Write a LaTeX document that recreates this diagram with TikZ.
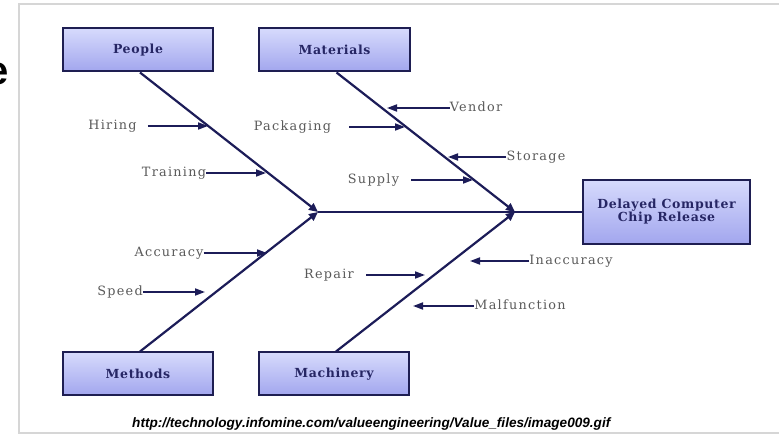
\documentclass[tikz,border=0pt]{standalone}
\usepackage{fontspec}
\setmainfont{DejaVu Serif}
\newfontfamily\lblfont[LetterSpace=10]{DejaVu Serif}
\newfontfamily\boxfont[LetterSpace=5]{DejaVu Serif}
\newfontfamily\urlfont{Liberation Sans}
\newfontfamily\bigsans{Liberation Sans}
\usetikzlibrary{arrows.meta}
\definecolor{navy}{HTML}{1C1C58}
\definecolor{boxedge}{HTML}{1E1E52}
\definecolor{boxtop}{HTML}{D6DAFC}
\definecolor{boxbot}{HTML}{A2A6EE}
\definecolor{boxtext}{HTML}{262664}
\definecolor{lbltext}{HTML}{5A5A5A}
\definecolor{frame}{HTML}{D6D6D6}
\tikzset{
  catbox/.style={draw=boxedge, line width=2pt, top color=boxtop, bottom color=boxbot,
    minimum width=#1, minimum height=43pt, inner sep=0pt,
    font=\boxfont\bfseries\fontsize{12.5}{14}\selectfont, text=boxtext, align=center},
  bone/.style={draw=navy, line width=2.2pt, -{Triangle[length=9pt,width=8pt]}},
  spine/.style={draw=navy, line width=2pt},
  sub/.style={draw=navy, line width=1.8pt, -{Triangle[length=10pt,width=7pt]}},
  lbl/.style={inner sep=0pt, text=lbltext, font=\lblfont\fontsize{12.8}{14}\selectfont, anchor=base},
}
\begin{document}
\begin{tikzpicture}[x=1pt,y=-1pt]
\useasboundingbox (0,0) rectangle (779,435);
\fill[white] (0,0) rectangle (779,435);
% frame
\draw[frame, line width=2pt] (780,4.5) -- (18.5,4.5) -- (18.5,433) -- (780,433);
% large letter at the left edge, cut by the picture's edge as in the reference
\node[anchor=base east, inner sep=0pt, font=\bigsans\bfseries\fontsize{40}{40}\selectfont] (cut) at (8.5,85) {e};
% category boxes
\node[catbox=150pt] (people) at (138,50) {People};
\node[catbox=151pt] (materials) at (334.5,50) {Materials};
\node[catbox=150pt] (methods) at (138,374) {Methods};
\node[catbox=150pt] (machinery) at (334,374) {Machinery};
\node[catbox=167pt, minimum height=64pt] (effect) at (666.5,212) {Delayed Computer\\[-1pt]Chip Release};
% junctions on the spine
\coordinate (j1) at (318,212);
\coordinate (j2) at (515,212);
% spine
\draw[spine] (j1) -- (effect.west);
% bones
\draw[bone] ([xshift=2pt]people.south) -- (j1);
\draw[bone] ([xshift=2pt]methods.north) -- (j1);
\draw[bone] ([xshift=2pt]materials.south) -- (j2);
\draw[bone] ([xshift=2pt]machinery.north) -- (j2);
% sub-cause labels
\node[lbl] (hiring) at (112.5,130) {Hiring};
\node[lbl] (training) at (174,177) {Training};
\node[lbl] (accuracy) at (169,257) {Accuracy};
\node[lbl] (speed) at (120,296) {Speed};
\node[lbl] (packaging) at (292.5,131) {Packaging};
\node[lbl] (vendor) at (476,112) {Vendor};
\node[lbl] (storage) at (536,161) {Storage};
\node[lbl] (supply) at (373.5,184) {Supply};
\node[lbl] (repair) at (329,279) {Repair};
\node[lbl] (inaccuracy) at (571,265) {Inaccuracy};
\node[lbl] (malfunction) at (520,310) {Malfunction};
% arrow tips
\coordinate (thiring) at (208,126);
\coordinate (ttraining) at (266,173);
\coordinate (taccuracy) at (267,253);
\coordinate (tspeed) at (205,292);
\coordinate (tpackaging) at (405,127);
\coordinate (tvendor) at (387,108);
\coordinate (tstorage) at (448,157);
\coordinate (tsupply) at (473,180);
\coordinate (trepair) at (425,275);
\coordinate (tinaccuracy) at (470,261);
\coordinate (tmalfunction) at (413,306);
% sub-cause arrows
\draw[sub] ([xshift=11pt]hiring.east |- thiring) -- (thiring);
\draw[sub] (training.east |- ttraining) -- (ttraining);
\draw[sub] (accuracy.east |- taccuracy) -- (taccuracy);
\draw[sub] (speed.east |- tspeed) -- (tspeed);
\draw[sub] ([xshift=18pt]packaging.east |- tpackaging) -- (tpackaging);
\draw[sub] (vendor.west |- tvendor) -- (tvendor);
\draw[sub] (storage.west |- tstorage) -- (tstorage);
\draw[sub] ([xshift=12pt]supply.east |- tsupply) -- (tsupply);
\draw[sub] ([xshift=12pt]repair.east |- trepair) -- (trepair);
\draw[sub] (inaccuracy.west |- tinaccuracy) -- (tinaccuracy);
\draw[sub] (malfunction.west |- tmalfunction) -- (tmalfunction);
% source line
\node[anchor=base west, inner sep=0pt, font=\urlfont\bfseries\itshape\fontsize{13.6}{14}\selectfont] (src) at (132,427) {http://technology.infomine.com/valueengineering/Value\_files/image009.gif};
\end{tikzpicture}
\end{document}
